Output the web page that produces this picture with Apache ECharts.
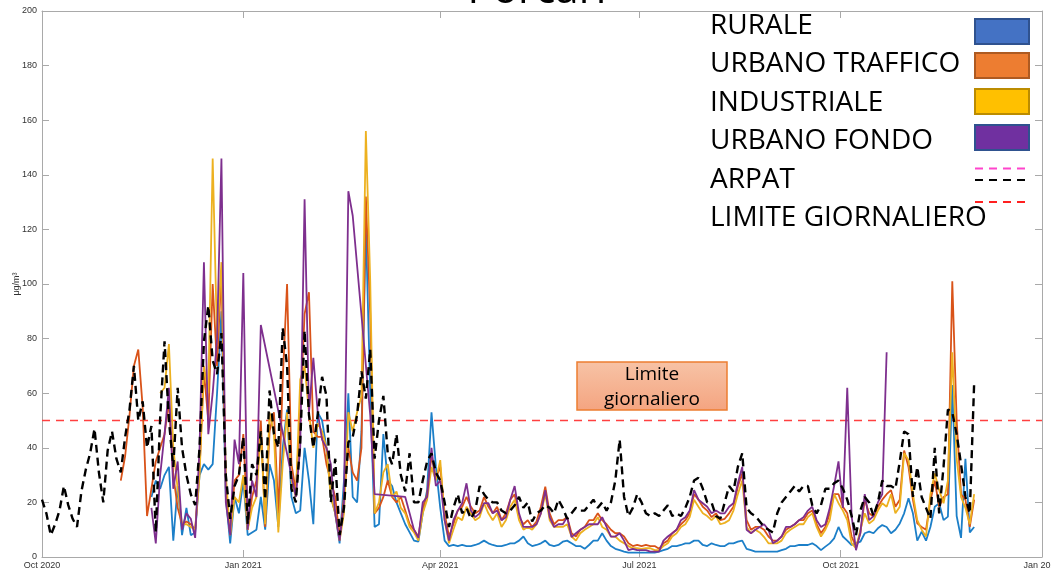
<!DOCTYPE html>
<html><head><meta charset="utf-8">
<script src="https://cdn.jsdelivr.net/npm/echarts@6/dist/echarts.min.js"></script>
<style>html,body{margin:0;padding:0;background:#fff}#c{width:1051px;height:571px}</style>
</head><body><div id="c"></div>
<script>
// ---- axis definitions (day offsets from 1 Oct 2020) ----
const tickDays = [0, 92, 182, 273, 365, 457];
const tickLabels = ['Oct 2020', 'Jan 2021', 'Apr 2021', 'Jul 2021', 'Oct 2021', 'Jan 2022'];
const yMin = 0, yMax = 200, yStep = 20;
const stepDays = 2;
const titleText = 'Porcari';
const yName = 'μg/m³';
const limite = 50;
const limiteLabel = ['Limite', 'giornaliero'];
const legendNames = ['RURALE', 'URBANO TRAFFICO', 'INDUSTRIALE', 'URBANO FONDO', 'ARPAT', 'LIMITE GIORNALIERO'];

// ---- ARPAT (every 2 days from day 0) ----
const arpatStart = 0;
const arpat = [
  21,16,8,12,17,26,19,14,11,24,
  32,38,47,31,20,39,46,36,31,44,
  54,70,50,57,40,48,9,51,79,50,
  33,62,40,30,23,19,40,79,92,72,
  67,82,30,14,26,30,44,12,34,30,
  46,21,61,45,40,84,70,25,20,42,
  83,52,40,52,66,59,20,36,8,18,
  42,44,52,68,58,76,36,50,59,38,
  34,45,30,24,38,20,20,28,35,38,
  31,28,20,11,18,23,16,18,14,17,
  26,23,21,20,20,17,16,17,19,22,
  18,20,13,16,17,19,18,16,21,18,
  14,16,18,17,17,19,21,18,20,17,
  20,28,43,22,15,18,23,20,16,15,
  16,15,17,19,15,16,15,18,22,28,
  29,25,20,20,15,14,20,26,24,33,
  38,18,16,15,13,11,10,9,16,20,
  22,24,26,24,26,26,19,16,19,25,
  25,27,28,25,21,15,8,17,22,20,
  15,20,28,26,26,25,35,46,45,22,
  33,22,18,14,40,16,33,54,53,45,
  34,22,16,64
];

// ---- sensors (every 2 days from day 36) ----
const sensorStart = 36;
const rurale = [
  null,null,null,null,null,null,null,22,28,25,
  30,33,6,26,8,18,8,9,30,34,
  32,34,60,90,22,5,22,16,28,8,
  9,10,22,10,34,28,11,40,54,22,
  16,17,40,28,12,53,50,40,22,16,
  5,28,60,22,20,46,121,60,11,12,
  45,28,26,20,16,12,9,6,5.6,16,
  24.5,53,33,18,6,4,4.4,4,4.4,4,
  4,4.4,5,6,5,4.4,4,4,4.4,5,
  5,6,7.5,5,4,4.4,5,6,4.4,4,
  4.4,5.6,6,5,4,4,3,4.4,6,6,
  8.7,6,4,3,2.5,2,1.6,1.6,1.6,1.6,
  1.6,1.6,1.6,2,2.5,3,4,4,4.4,5,
  5,6,6,4.4,4,5,4.4,4,4,5,
  5,5.6,6,3,2.5,2,2,2,2,2,
  2,2.5,3,4,4,4.4,4.4,4.4,5,4,
  2.5,3.8,5,6.8,11,7.5,6,4.4,5,5.6,
  8.7,9.3,8.7,10.5,11.7,11,8.7,10,12.3,16,
  21.5,16,6,9.3,6,11,18.4,19.7,13.5,14.8,
  63,15,7,36,9,11
];
const urbanoTraffico = [
  28,37,52,70,76,55,15,25,35,40,
  45,57,30,18,12,13,12,10,32,68,
  50,100,70,105,25,8,28,30,45,10,
  22,28,50,11,46,53,16,65,100,34,
  24,53,89,97,46,44,44,34,28,22,
  7,22,40,31,28,40,132,89,16,18,
  22,28,22,20,22,17,12,10,7.5,18,
  23,37,29,33,16,7.5,12,17,18.4,22,
  18.4,16,17,22,18.4,16,18.4,13.5,16,21,
  23,14.6,12,13.5,11,13,18.4,25.8,16,12,
  13.5,13.5,14.6,8.7,7.5,10,11,13.5,13.5,16,
  13.5,12,10,8.7,8.7,7.5,5,4,4.4,4,
  4.4,4,4,3,5,6,8.7,10,12,13.5,
  16,23,21,18.4,17,14.6,16,13.5,14,16,
  18.4,25.8,30.6,13.5,10,11,11,10,7.5,6,
  6,7.5,10,11,12,13.5,13.5,16,17,12,
  8.7,11,16,23,23,18.4,16,7.5,3.8,8.7,
  21,16,14.8,18.4,21,23,24.5,18.4,21,39,
  33,21,12.3,11,10,20.6,28,18.4,22,23,
  101,50,23,21,11,21
];
const industriale = [
  null,null,null,null,null,null,null,null,null,60,
  62,78,40,25,12,12,11,10,30,70,
  60,146,80,108,30,8,22,20,30,10,
  18,22,46,12,53,45,9,34,53,28,
  22,65,70,53,40,49,46,40,22,16,
  6,16,53,46,53,59,156,101,16,20,
  31,34,22,24,18,16,11,9,6,16,
  21,33,28,35.5,13.5,5,10,14.6,13.5,18.4,
  16,13.5,14.6,19.7,16,13.5,16,11,13.5,18.4,
  21,13.5,10,11,10,12,16,23,13.5,11,
  11,11,12,7.5,6,8.7,10,11,12,14.6,
  11,10,7.5,7.5,6,5,4,3.2,3.2,3,
  3.2,3.2,2.5,2.5,4,5,7.5,8.7,11,12,
  14.6,21,18.4,16,15,13.5,15,12,12.5,13.5,
  17,23,28,11,8.7,10,9,7.3,5,5,
  5,6,8.7,10,11,12,12,14.6,16,11,
  7.5,10,13.5,23,19.7,17,13.5,5,3.2,10,
  16,12.3,13.5,17,19.7,18.4,23,16,18.4,38,
  35.5,23,13.5,10,7.5,23,30.6,24.5,19.7,28,
  75,36,22,18,12,23
];
const urbanoFondo = [
  null,null,null,null,null,null,null,18,5,30,
  45,62,25,35,10,16,14,7,40,108,
  45,60,80,146,20,8,43,34,104,10,
  28,22,85,null,null,null,null,null,null,null,
  22,40,131,53,73,53,43,40,34,16,
  6,20,134,125,null,null,null,52,23,null,
  null,null,null,null,null,22,16,10,7,20,
  22,40,26,28,13.5,6,13.5,17,19.7,27,
  17,14.6,16,19.7,19.7,16,17,13.5,14.6,21,
  26,16,11,11,11,12,16,24.5,14.6,11,
  12,12,14.6,7.3,8.7,10,11,12,12,12,
  14.6,11,7.5,7.5,8.7,6,2.5,3,2.5,2.5,
  2.5,2,2,2,6,7.5,8.7,10,13.5,14.6,
  17,24.5,21,19.7,18.4,16,17,16,16,18.4,
  19.7,27,33,10,8.7,10,11,12,10,5,
  6,7.5,11,11,12,13.5,14.6,17,18.4,13.5,
  11,12,18,26,35,18,62,15,2.5,9,
  23,13.5,15,20,23,75,null,null,null,null,
  null,null,null,null,null,null,null,null,null,null,
  null,null,null,null,null,null
];

const toPairs = (start, arr) => arr.map((v, i) => [start + i * stepDays, v]);

const FONT = '"Open Sans", "Noto Sans", sans-serif';
const AX = '"Liberation Sans", Arial, sans-serif';
const axisGrey = '#a9a9a9';

const baseX = {
  type: 'value', min: tickDays[0], max: tickDays[tickDays.length - 1],
  axisLine: { show: true, onZero: false, lineStyle: { color: axisGrey, width: 1 } },
  axisTick: { show: true, inside: true, length: 7, customValues: tickDays, lineStyle: { color: axisGrey } },
  splitLine: { show: false }
};
const baseY = {
  type: 'value', min: yMin, max: yMax, interval: yStep,
  axisLine: { show: true, onZero: false, lineStyle: { color: axisGrey, width: 1 } },
  axisTick: { show: true, inside: true, length: 7, lineStyle: { color: axisGrey } },
  splitLine: { show: false }
};

const lineSeries = (name, start, arr, color, z) => ({
  name, type: 'line', data: toPairs(start, arr), connectNulls: true,
  showSymbol: false, symbol: 'none', animation: false, z,
  lineStyle: { color, width: 1.8 }
});

const chart = echarts.init(document.getElementById('c'), null, { renderer: 'canvas' });
const lx = 710, ly0 = 25, ldy = 38.5;
const swatches = [
  { fill: '#4472C4', stroke: '#2F528F', y: 19 },
  { fill: '#ED7D31', stroke: '#AE5A21', y: 53 },
  { fill: '#FFC000', stroke: '#BC8C00', y: 89 },
  { fill: '#7030A0', stroke: '#2F528F', y: 125 }
];
const graphics = [];
graphics.push({ type: 'text', x: 537, y: -9, z: 100,
  style: { text: titleText, font: '42px ' + FONT, fill: '#000', align: 'center', verticalAlign: 'middle' } });
legendNames.forEach((n, i) => {
  graphics.push({ type: 'text', x: lx, y: ly0 + i * ldy + 1, z: 100,
    style: { text: n, font: '28px ' + FONT, fill: '#000', align: 'left', verticalAlign: 'middle' } });
});
swatches.forEach(s => {
  graphics.push({ type: 'rect', z: 100, shape: { x: 975, y: s.y, width: 54, height: 25 },
    style: { fill: s.fill, stroke: s.stroke, lineWidth: 2 } });
});
graphics.push({ type: 'line', z: 100, shape: { x1: 975, y1: 168.5, x2: 1028, y2: 168.5 },
  style: { stroke: '#FF44CC', lineWidth: 2, lineDash: [8, 6] } });
graphics.push({ type: 'line', z: 100, shape: { x1: 975, y1: 180, x2: 1028, y2: 180 },
  style: { stroke: '#000', lineWidth: 2, lineDash: [8, 6] } });
graphics.push({ type: 'line', z: 100, shape: { x1: 975, y1: 202, x2: 1028, y2: 202 },
  style: { stroke: '#FF2020', lineWidth: 2, lineDash: [8, 6] } });
graphics.push({ type: 'rect', z: 100, shape: { x: 577, y: 362, width: 150, height: 48 },
  style: { fill: new echarts.graphic.LinearGradient(0, 0, 0, 1, [
      { offset: 0, color: '#F7C3A6' }, { offset: 1, color: '#F4A480' }]),
    stroke: '#ED7D31', lineWidth: 1.5 } });
limiteLabel.forEach((t, i) => {
  graphics.push({ type: 'text', z: 101, x: 652, y: 375 + i * 25,
    style: { text: t, font: '19px ' + FONT, fill: '#000', align: 'center', verticalAlign: 'middle' } });
});

chart.setOption({
  animation: false,
  backgroundColor: '#fff',
  grid: { left: 42, right: 9, top: 11, bottom: 14, containLabel: false, outerBoundsMode: 'none' },
  xAxis: [
    Object.assign({}, baseX, { position: 'bottom',
      axisLabel: { show: true, customValues: tickDays, formatter: v => tickLabels[tickDays.indexOf(v)],
        fontSize: 9, color: '#333', margin: 4, fontFamily: AX, hideOverlap: false } }),
    Object.assign({}, baseX, { position: 'top', axisLabel: { show: false } })
  ],
  yAxis: [
    Object.assign({}, baseY, { position: 'left',
      name: yName, nameLocation: 'middle', nameGap: 21, nameRotate: 90, nameMoveOverlap: false,
      nameTextStyle: { fontSize: 9, color: '#333', fontFamily: AX },
      axisLabel: { fontSize: 9, color: '#333', margin: 5, fontFamily: AX } }),
    Object.assign({}, baseY, { position: 'right', axisLabel: { show: false } })
  ],
  series: [
    lineSeries('RURALE', sensorStart, rurale, '#1C7FC8', 3),
    lineSeries('URBANO TRAFFICO', sensorStart, urbanoTraffico, '#D95319', 4),
    lineSeries('INDUSTRIALE', sensorStart, industriale, '#EDB120', 5),
    lineSeries('URBANO FONDO', sensorStart, urbanoFondo, '#7E2F8E', 6),
    { name: 'LIMITE GIORNALIERO', type: 'line', symbol: 'none', animation: false, z: 2,
      data: [[tickDays[0], limite], [tickDays[tickDays.length - 1], limite]],
      lineStyle: { color: '#FF4040', width: 1.6, type: [8, 6] } },
    { name: 'ARPAT', type: 'line', symbol: 'none', showSymbol: false, animation: false, z: 7,
      data: toPairs(arpatStart, arpat), connectNulls: true,
      lineStyle: { color: '#000', width: 2.4, type: [8, 5] } }
  ],
  graphic: graphics
});
</script></body></html>
